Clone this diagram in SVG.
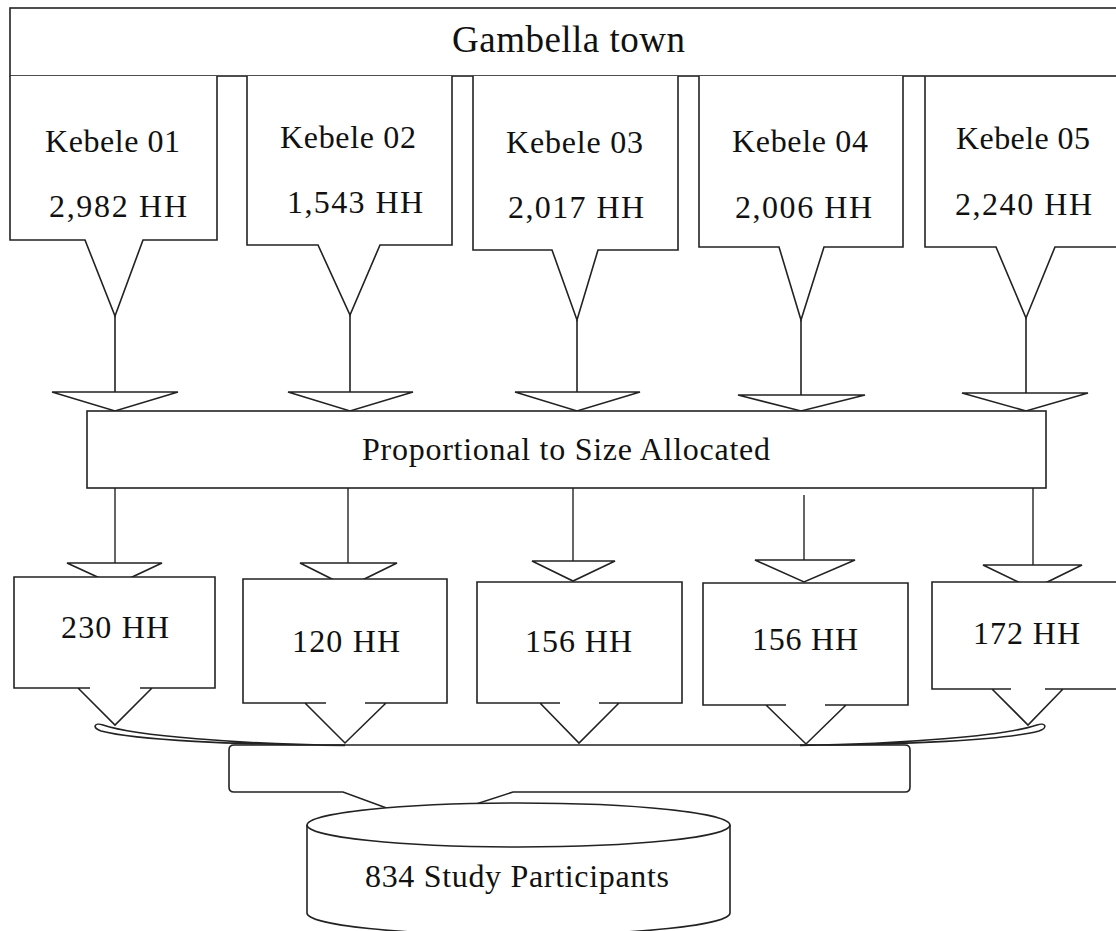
<svg xmlns="http://www.w3.org/2000/svg" width="1116" height="931" viewBox="0 0 1116 931">
<style>
.s{fill:none;stroke:#222;stroke-width:1.6;stroke-linejoin:miter}
.w{fill:#fff;stroke:#222;stroke-width:1.6}
.g{fill:none;stroke:#555;stroke-width:1.8}
.wf{fill:#fff;stroke:none}
text{font-family:"Liberation Serif","Times New Roman",serif;fill:#111}
.t{font-size:32px}
.h{font-size:37px}
</style>
<rect width="1116" height="931" fill="#fff"/>
<g id="title">
<rect class="w" x="10" y="8" width="1115" height="68"/>
<text class="h" x="452" y="52" textLength="233">Gambella town</text>
</g>
<g id="connectors">
<path class="s" d="M115 316V392M350 315V392M577 320V392M801 320V395M1026 318V393"/>
<polygon class="w" points="52,392 178,392 115,411"/>
<polygon class="w" points="288,392 413,392 350,411"/>
<polygon class="w" points="515,392 640,392 577,411"/>
<polygon class="w" points="738,395 865,395 801,411"/>
<polygon class="w" points="962,393 1088,393 1026,411"/>
<path class="g" d="M115 488V563M348 488V563M573 488V561M804 495V560M1033 488V565"/>
<polygon class="w" points="67,563 162,563 115,585"/>
<polygon class="w" points="300,563 397,563 348,587"/>
<polygon class="w" points="532,561 615,561 573,581"/>
<polygon class="w" points="755,560 855,560 804,582"/>
<polygon class="w" points="983,565 1082,565 1033,589"/>
</g>
<g id="kebele01">
<path class="w" d="M10 76V240H85L115 316L143 240H217V76"/>
<text class="t" x="45" y="152" textLength="135">Kebele 01</text>
<text class="t" x="49" y="217" textLength="138">2,982 HH</text>
</g>
<g id="kebele02">
<path class="w" d="M247 76V245H318L350 315L380 245H452V76"/>
<text class="t" x="280" y="148" textLength="136">Kebele 02</text>
<text class="t" x="287" y="213" textLength="136">1,543 HH</text>
</g>
<g id="kebele03">
<path class="w" d="M473 76V250H552L577 320L598 250H678V76"/>
<text class="t" x="506" y="153" textLength="137">Kebele 03</text>
<text class="t" x="508" y="218" textLength="136">2,017 HH</text>
</g>
<g id="kebele04">
<path class="w" d="M699 76V247H779L801 320L824 247H903V76"/>
<text class="t" x="732" y="152" textLength="136">Kebele 04</text>
<text class="t" x="735" y="218" textLength="137">2,006 HH</text>
</g>
<g id="kebele05">
<path class="w" d="M925 76V247H996L1026 318L1055 247H1125"/>
<text class="t" x="956" y="149" textLength="134">Kebele 05</text>
<text class="t" x="955" y="215" textLength="137">2,240 HH</text>
</g>
<g id="allocation">
<rect class="w" x="87" y="411" width="959" height="77"/>
<text class="t" x="362" y="460" textLength="408">Proportional to Size Allocated</text>
</g>
<g id="hh230">
<rect class="wf" x="14" y="577" width="201" height="111"/>
<path class="s" d="M90 688H14V577H215V688H140M78 688L115 725L152 688"/>
<text class="t" x="61" y="638" textLength="108">230 HH</text>
</g>
<g id="hh120">
<rect class="wf" x="243" y="579" width="204" height="124"/>
<path class="s" d="M326 703H243V579H447V703H365M305 703L345 743L386 703"/>
<text class="t" x="292" y="652" textLength="108">120 HH</text>
</g>
<g id="hh156a">
<rect class="wf" x="477" y="582" width="205" height="121"/>
<path class="s" d="M560 703H477V582H682V703H599M540 703L579 743L619 703"/>
<text class="t" x="525" y="652" textLength="107">156 HH</text>
</g>
<g id="hh156b">
<rect class="wf" x="703" y="583" width="205" height="122"/>
<path class="s" d="M786 705H703V583H908V705H825M766 705L806 744L846 705"/>
<text class="t" x="752" y="650" textLength="106">156 HH</text>
</g>
<g id="hh172">
<rect class="wf" x="932" y="582" width="190" height="107"/>
<path class="s" d="M1011 689H932V582H1125M1125 689H1045M992 689L1028 725L1063 689"/>
<text class="t" x="973" y="644" textLength="107">172 HH</text>
</g>
<g id="merge">
<path class="s" d="M234 745H905Q910 745 910 750V787Q910 792 905 792H513L470 806M392 810L343 792H234Q229 792 229 787V750Q229 745 234 745"/>
<path class="s" d="M345 745C235 745 135 740 101 731C92 728 94 722 103 725C135 736 240 744 345 745.5"/>
<path class="s" d="M800 745C905 745 1005 740 1039 731C1048 728 1046 722 1037 725C1005 736 900 744 800 745.5"/>
</g>
<g id="participants">
<path class="w" d="M307 825A211.5 22 0 0 1 730 825V913A211.5 22 0 0 1 307 913Z"/>
<path class="s" d="M307 825A211.5 22 0 0 0 730 825"/>
<text class="t" x="365" y="887" textLength="304">834 Study Participants</text>
</g>
</svg>
